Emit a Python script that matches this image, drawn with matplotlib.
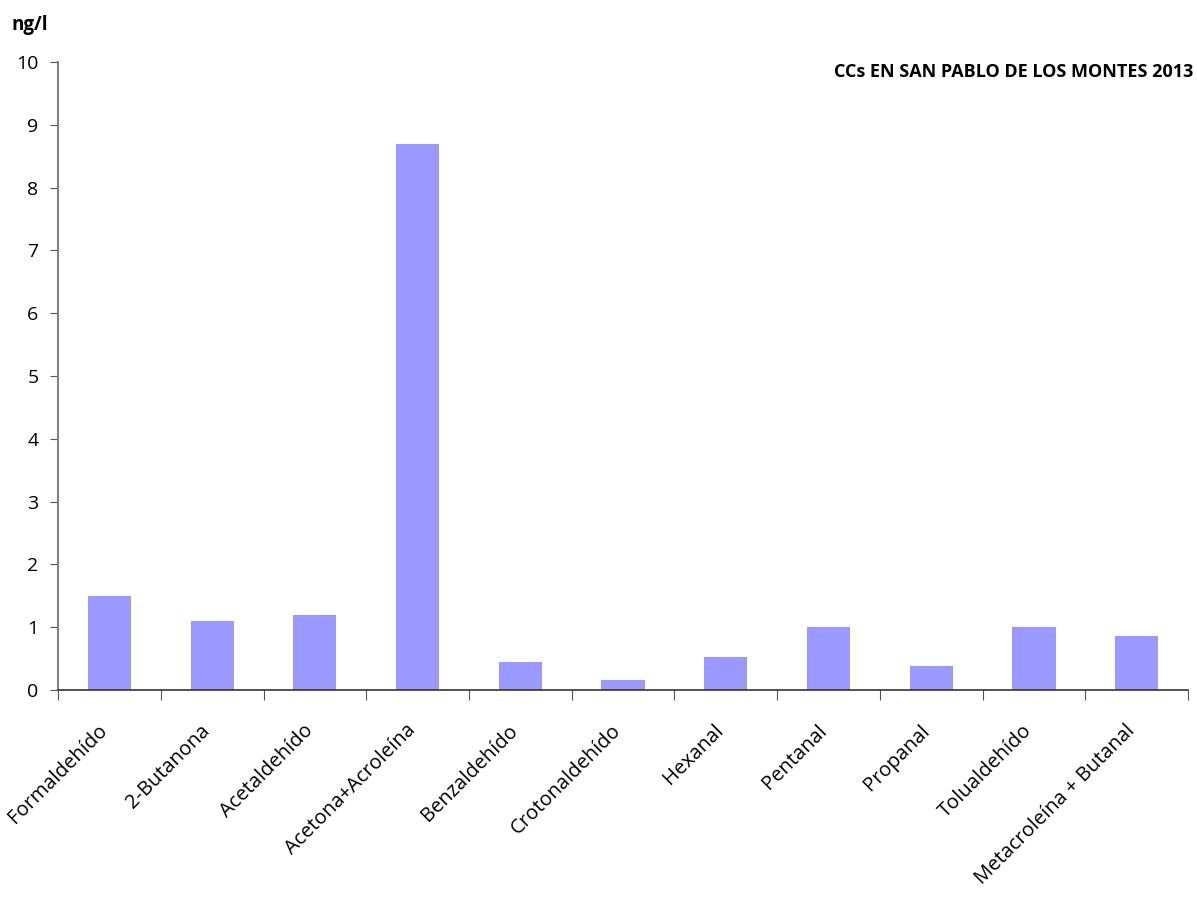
import numpy as np
import matplotlib.pyplot as plt
import matplotlib.transforms as mtransforms

# CCs en San Pablo de los Montes 2013 (ng/l)
compuestos = ["Formaldehído", "2-Butanona", "Acetaldehído", "Acetona+Acroleína",
              "Benzaldehído", "Crotonaldehído", "Hexanal", "Pentanal", "Propanal",
              "Tolualdehído", "Metacroleína + Butanal"]
valores = [1.5, 1.1, 1.2, 8.7, 0.45, 0.155, 0.52, 1.0, 0.38, 1.0, 0.86]
yticks = list(range(0, 11))

plt.rcParams['font.family'] = ['Open Sans', 'DejaVu Sans']

fig = plt.figure(figsize=(11.97, 9.01), dpi=100)
ax = fig.add_axes([0.0485, 0.2342, 0.944, 0.697])

x = np.arange(len(compuestos))
ax.bar(x, valores, width=0.42, color="#9999FF", zorder=2)

ax.set_xlim(-0.5, len(compuestos) - 0.5)
ax.set_ylim(0, 10)
ax.set_yticks(yticks)
ax.set_yticklabels([str(t) for t in yticks], fontsize=14)

# ticks between categories, labels at category centres
ax.set_xticks(np.arange(len(compuestos) + 1) - 0.5)
ax.set_xticklabels([])
ax.set_xticks(x, minor=True)
ax.set_xticklabels(compuestos, minor=True, rotation=45, ha="right",
                   rotation_mode="anchor", fontsize=14.5)
ax.tick_params(axis="x", which="minor", length=0, pad=22)
ax.tick_params(axis="x", which="major", direction="out", length=7, color="#555555")
ax.tick_params(axis="y", direction="out", length=6, color="#555555", pad=8)

# nudge the rotated labels a bit to the left
shift = mtransforms.ScaledTranslation(-12 / 100, 0, fig.dpi_scale_trans)
for lbl in ax.get_xticklabels(minor=True):
    lbl.set_transform(lbl.get_transform() + shift)

for side in ["top", "right"]:
    ax.spines[side].set_visible(False)
ax.spines["left"].set_color("#808080")
ax.spines["left"].set_linewidth(1.5)
ax.spines["bottom"].set_color("#333333")
ax.spines["bottom"].set_linewidth(1.2)

fig.text(0.010, 0.972, "ng/l", fontsize=13.5, fontweight="bold", va="center")
fig.text(0.997, 0.920, "CCs EN SAN PABLO DE LOS MONTES 2013", fontsize=13,
         fontweight="bold", ha="right", va="center")

fig.savefig("out.png", dpi=100)
